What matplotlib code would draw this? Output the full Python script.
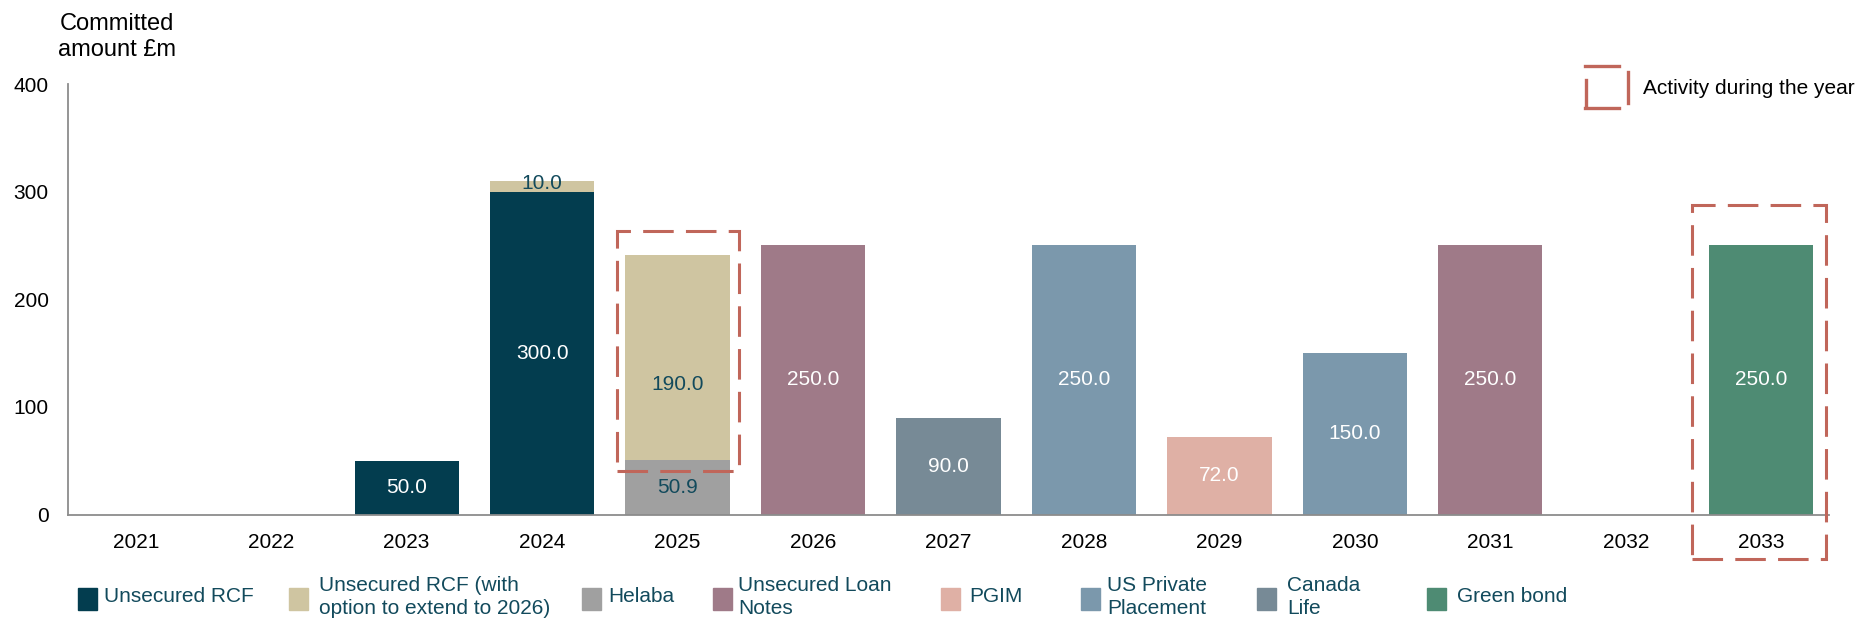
import matplotlib
matplotlib.use("Agg")
import matplotlib.pyplot as plt
from matplotlib.patches import Rectangle
from matplotlib.lines import Line2D

plt.rcParams['font.family'] = ['Liberation Sans', 'DejaVu Sans']

# data (GBP m)
years = ['2021', '2022', '2023', '2024', '2025', '2026', '2027',
         '2028', '2029', '2030', '2031', '2032', '2033']
unsecured_rcf = [0, 0, 50.0, 300.0, 0, 0, 0, 0, 0, 0, 0, 0, 0]
helaba = [0, 0, 0, 0, 50.9, 0, 0, 0, 0, 0, 0, 0, 0]
rcf_extend = [0, 0, 0, 10.0, 190.0, 0, 0, 0, 0, 0, 0, 0, 0]
loan_notes = [0, 0, 0, 0, 0, 250.0, 0, 0, 0, 0, 250.0, 0, 0]
pgim = [0, 0, 0, 0, 0, 0, 0, 0, 72.0, 0, 0, 0, 0]
us_pp = [0, 0, 0, 0, 0, 0, 0, 250.0, 0, 150.0, 0, 0, 0]
canada_life = [0, 0, 0, 0, 0, 0, 90.0, 0, 0, 0, 0, 0, 0]
green_bond = [0, 0, 0, 0, 0, 0, 0, 0, 0, 0, 0, 0, 250.0]
activity_years = ['2025', '2033']

DARK = '#124a5c'
BOX = '#c0665a'

# stack order bottom -> top, with colour and label colour
series = [
    ('Unsecured RCF', unsecured_rcf, '#033d4f', 'white'),
    ('Helaba', helaba, '#a0a0a0', DARK),
    ('Unsecured RCF (with\noption to extend to 2026)', rcf_extend, '#cfc5a1', DARK),
    ('Unsecured Loan\nNotes', loan_notes, '#9f7a88', 'white'),
    ('PGIM', pgim, '#dfb0a5', 'white'),
    ('US Private\nPlacement', us_pp, '#7b98ac', 'white'),
    ('Canada\nLife', canada_life, '#778a96', 'white'),
    ('Green bond', green_bond, '#4e8b73', 'white'),
]
legend_order = [0, 2, 1, 3, 4, 5, 6, 7]

W, H = 1862, 625
fig = plt.figure(figsize=(W / 100, H / 100), dpi=100)
ax = fig.add_axes([68 / W, 1 - 514.5 / H, (1829 - 68) / W, (514.5 - 84) / H])

x = list(range(len(years)))
bottom = [0.0] * len(years)
totals = [sum(s[1][i] for s in series) for i in x]
for name, vals, col, tcol in series:
    ax.bar(x, vals, 0.77, bottom=bottom, color=col, zorder=2)
    for i, v in enumerate(vals):
        if v <= 0:
            continue
        y = bottom[i] + v / 2
        if name.startswith('Unsecured RCF (') and v > 100:
            y = totals[i] / 2  # label sits in middle of whole bar
        elif v < 20:
            y += 3
        ax.text(i, y, f'{v:.1f}', ha='center', va='center', fontsize=15, color=tcol, zorder=3)
    bottom = [b + v for b, v in zip(bottom, vals)]

# dashed "activity" boxes
box_ext = {'2025': (0.45, 0.45, 40, 263), '2033': (0.51, 0.48, -41, 288)}
for yr in activity_years:
    i = years.index(yr)
    l, r, y0, y1 = box_ext[yr]
    ax.add_patch(Rectangle((i - l, y0), l + r, y1 - y0, fill=False, edgecolor=BOX,
                           lw=2.2, linestyle=(0, (10, 4)), clip_on=False, zorder=4))

ax.set_xlim(-0.5, len(years) - 0.5)
ax.set_ylim(0, 400)
ax.set_yticks([0, 100, 200, 300, 400])
ax.set_xticks(x)
ax.set_xticklabels(years)
ax.tick_params(axis='both', length=0, labelsize=15, colors='black')
ax.tick_params(axis='y', pad=14)
ax.tick_params(axis='x', pad=13)
for s in ['top', 'right']:
    ax.spines[s].set_visible(False)
for s in ['left', 'bottom']:
    ax.spines[s].set_color('#8c8c8c')
    ax.spines[s].set_linewidth(1.3)

fig.text(117 / W, 1 - 37 / H, 'Committed\namount £m', ha='center', va='center',
         fontsize=17, linespacing=1.25)

# legend along the bottom
leg_patch_x = [78, 289, 582, 713, 941, 1081, 1257, 1427]
leg_text_x = [104, 319, 608, 738, 969, 1107, 1287, 1457]
for k, idx in enumerate(legend_order):
    name, _, col, _ = series[idx]
    fig.patches.append(Rectangle((leg_patch_x[k] / W, 1 - 610 / H), 19 / W, 22 / H,
                                 color=col, transform=fig.transFigure, figure=fig))
    fig.text(leg_text_x[k] / W, 1 - 597 / H, name, ha='left', va='center',
             fontsize=15, color=DARK, linespacing=1.32)

# activity key
segs = [((1585, 1619), (66, 66)), ((1586, 1586), (80, 106)),
        ((1585, 1619), (108, 108)), ((1628, 1628), (72, 103))]
for xs, ys in segs:
    fig.add_artist(Line2D([xx / W for xx in xs], [1 - yy / H for yy in ys],
                          color=BOX, lw=2.4, transform=fig.transFigure))
fig.text(1643 / W, 1 - 88 / H, 'Activity during the year', ha='left', va='center',
         fontsize=15)

fig.savefig('out.png', dpi=100)
